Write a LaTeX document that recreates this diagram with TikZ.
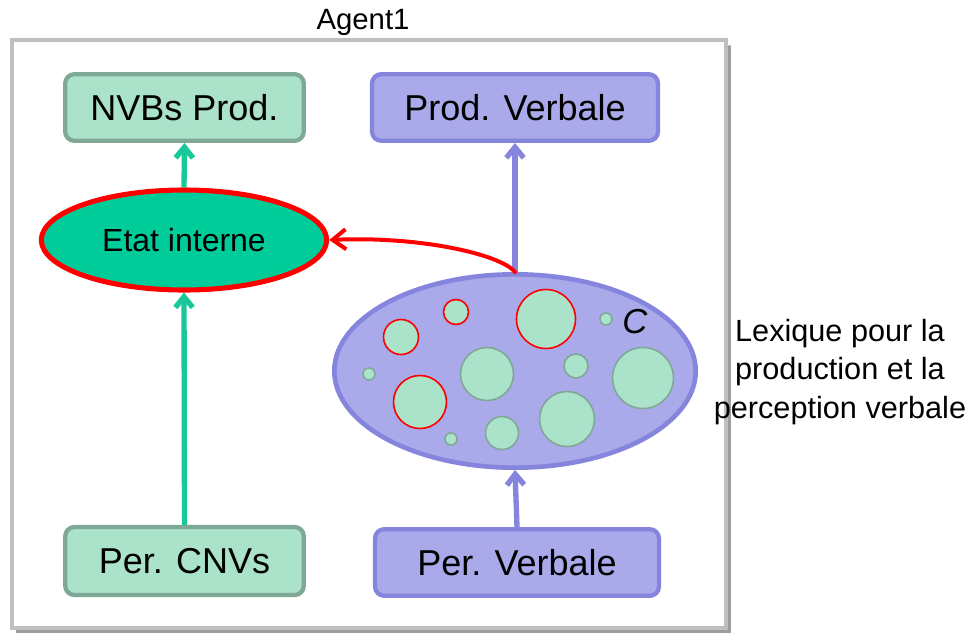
\documentclass[tikz,border=0pt]{standalone}
\usepackage{fontspec}
\setmainfont{Liberation Sans}
\usetikzlibrary{shapes.geometric,arrows.meta}
\definecolor{gfill}{HTML}{ABE2CA}
\definecolor{gstroke}{HTML}{7FA896}
\definecolor{teal1}{HTML}{19C898}
\definecolor{etatfill}{HTML}{00CC99}
\definecolor{bfill}{HTML}{AAAAEB}
\definecolor{bstroke}{HTML}{8585DD}
\definecolor{framec}{HTML}{BFBFBF}
\definecolor{redc}{HTML}{FF0000}
\tikzset{
  gbox/.style={draw=gstroke, fill=gfill, line width=3.2pt, rounded corners=7pt, font=\fontsize{27}{32}\selectfont, inner sep=0pt},
  bbox/.style={draw=bstroke, fill=bfill, line width=3.2pt, rounded corners=7pt, font=\fontsize{27}{32}\selectfont, inner sep=0pt},
  garrow/.style={draw=teal1, line width=4pt, -{Straight Barb[length=8pt,width=13pt]}},
  barrow/.style={draw=bstroke, line width=4pt, -{Straight Barb[length=8pt,width=13pt]}},
  rarrow/.style={draw=redc, line width=3pt, -{Straight Barb[length=10pt,width=15pt]}},
  gcirc/.style={draw=gstroke, fill=gfill, line width=1.2pt},
  rcirc/.style={draw=redc, fill=gfill, line width=1.2pt},
  shadowline/.style={draw=black!38, line width=2.2pt},
}
\begin{document}
\begin{tikzpicture}[x=0.75pt,y=-0.75pt]
\useasboundingbox (0,0) rectangle (975,633);
% frame
\draw[shadowline] ([xshift=2.5pt,yshift=-4pt]369+357,40) -- (729.3,631.3) -- (16,631.3);
\node[draw=framec, fill=white, line width=3pt, minimum width=714*0.75pt, minimum height=588*0.75pt, inner sep=0pt] (frame) at (369,334) {};
\node[font=\fontsize{22}{26}\selectfont] (agent) at (363,22) {Agent1};
% boxes
\node[gbox, minimum width=179pt, minimum height=50pt] (nvb) at (184.5,107.5) {NVBs Prod.};
\node[bbox, minimum width=214.5pt, minimum height=50pt] (pv) at (515,107.5) {Prod. Verbale};
\node[gbox, minimum width=179pt, minimum height=51pt] (pc) at (184.5,561) {Per. CNVs};
\node[bbox, minimum width=213pt, minimum height=50pt] (pver) at (517,562.5) {Per. Verbale};
% ellipses
\node[ellipse, draw=redc, fill=etatfill, line width=3.8pt, minimum width=214pt, minimum height=75pt, inner sep=0pt,
  font=\fontsize{24}{28}\selectfont] (etat) at (184,240) {Etat interne};
\node[ellipse, draw=bstroke, fill=bfill, line width=3.5pt, minimum width=271pt, minimum height=145pt, inner sep=0pt] (lex) at (515,371) {};
% circles
\draw[rcirc] (401,337) circle[radius=17.5];
\draw[rcirc] (456,312) circle[radius=12.5];
\draw[rcirc] (546,319) circle[radius=29.5];
\draw[gcirc] (606,319) circle[radius=6];
\draw[gcirc] (369,374) circle[radius=6];
\draw[rcirc] (420,402) circle[radius=26.5];
\draw[gcirc] (487,374) circle[radius=26.5];
\draw[gcirc] (576,366) circle[radius=12];
\draw[gcirc] (643,378) circle[radius=30.5];
\draw[gcirc] (451,439) circle[radius=6];
\draw[gcirc] (502,433) circle[radius=16.5];
\draw[gcirc] (567,419) circle[radius=27.5];
\node[font=\fontsize{26}{30}\selectfont\itshape, inner sep=0pt] (c) at (635,322) {C};
% label
\node[font=\fontsize{23}{29}\selectfont, align=center, inner sep=0pt] (lexlabel) at (840,372) {Lexique pour la\\production et la\\perception verbale};
% arrows
\draw[garrow] (pc.north) -- (etat.south);
\draw[garrow] (etat.north) -- (nvb.south);
\draw[barrow] (lex.north) -- (pv.south);
\draw[barrow] (pver.north) -- (lex.south);
\draw[rarrow, line cap=round] (lex.north) .. controls +(-15,-18) and +(90,-4) .. (etat.east);
\end{tikzpicture}
\end{document}
